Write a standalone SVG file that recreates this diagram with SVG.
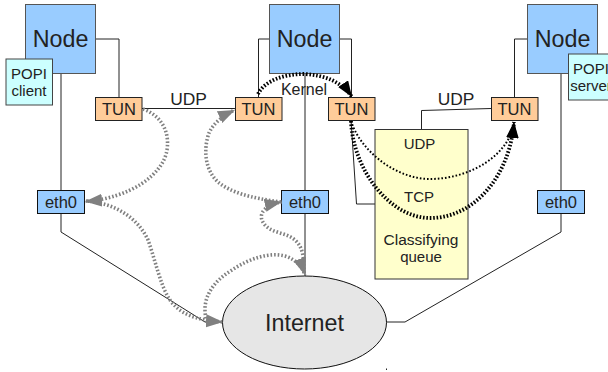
<svg xmlns="http://www.w3.org/2000/svg" width="608" height="372" viewBox="0 0 608 372">
<defs>
<style>
text{font-family:"Liberation Sans",Arial,sans-serif;fill:#222;text-anchor:middle}
.node{fill:#99ccff;stroke:#555}
.popi{fill:#ccffff;stroke:#444}
.tun{fill:#ffcc99;stroke:#222}
.eth{fill:#99ccff;stroke:#111}
.c{fill:none;stroke:#222;stroke-width:1}
.g{fill:none;stroke:#808080;stroke-width:3.6;stroke-dasharray:1.6 2}
.b1{fill:none;stroke:#000;stroke-width:2;stroke-dasharray:1.6 2}
.b2{fill:none;stroke:#000;stroke-width:3.8;stroke-dasharray:1.6 1.8}
.n{font-size:23.3px}.t{font-size:16.5px}.s{font-size:15px}.u{font-size:17.4px}
</style>
<marker id="ag" markerUnits="userSpaceOnUse" markerWidth="18" markerHeight="14" refX="17" refY="6.500" orient="auto"><path d="M0 0L17 6.500L0 13Z" fill="#808080"/></marker>
<marker id="ab" markerUnits="userSpaceOnUse" markerWidth="18" markerHeight="14" refX="16" refY="6" orient="auto"><path d="M0 0L16 6L0 12Z" fill="#000"/></marker>
</defs>
<g id="connectors">
<path class="c" d="M96 39H119V98"/>
<path class="c" d="M61 73V191M61 213V232L205 322H223"/>
<path class="c" d="M142 108.500H235"/>
<path class="c" d="M258.500 97V39H270"/>
<path class="c" d="M305 73V191M305 213V276"/>
<path class="c" d="M339 39H351.500V98"/>
<path class="c" d="M351 120L356.500 204H375"/>
<path class="c" d="M421.500 129V110.500L491 108.500"/>
<path class="c" d="M514.500 97V39H528"/>
<path class="c" d="M561 73V191M561 213V232L405 322H386"/>
<path class="c" d="M386.500 368.500V370"/>
</g>
<g id="node1"><rect class="node" x="25.500" y="4.500" width="70" height="69"/><text class="n" x="60.500" y="47">Node</text></g>
<g id="node2"><rect class="node" x="269.500" y="4.500" width="70" height="69"/><text class="n" x="304.500" y="47">Node</text></g>
<g id="node3"><rect class="node" x="527.500" y="4.500" width="70" height="69"/><text class="n" x="562.500" y="47">Node</text></g>
<g id="popi-client"><rect class="popi" x="6" y="59" width="46.500" height="46"/><text class="s" x="29" y="79">POPI</text><text class="s" x="29" y="96">client</text></g>
<g id="popi-server"><rect class="popi" x="568.500" y="54" width="46" height="46"/><text class="s" x="591" y="74">POPI</text><text class="s" x="591" y="91">server</text></g>
<g id="tun1"><rect class="tun" x="95.500" y="97.500" width="46.500" height="23"/><text class="t" x="119" y="115">TUN</text></g>
<g id="tun2"><rect class="tun" x="235.500" y="97.500" width="46.500" height="23"/><text class="t" x="258.500" y="115">TUN</text></g>
<g id="tun3"><rect class="tun" x="328.500" y="97.500" width="46.500" height="23"/><text class="t" x="351.500" y="115">TUN</text></g>
<g id="tun4"><rect class="tun" x="491.500" y="97.500" width="46.500" height="23"/><text class="t" x="514.500" y="115">TUN</text></g>
<g id="eth1"><rect class="eth" x="37.500" y="190.500" width="47" height="23"/><text class="t" x="61" y="208">eth0</text></g>
<g id="eth2"><rect class="eth" x="281.500" y="190.500" width="47" height="23"/><text class="t" x="305" y="208">eth0</text></g>
<g id="eth3"><rect class="eth" x="537.500" y="190.500" width="47" height="23"/><text class="t" x="561" y="208">eth0</text></g>
<g id="queue"><rect x="375" y="129.500" width="93" height="149.500" fill="#ffffcc" stroke="#333"/><text class="s" x="419.500" y="149">UDP</text><text class="s" x="419" y="202">TCP</text><text class="s" x="421" y="245" style="font-size:15.500px">Classifying</text><text class="s" x="421" y="262">queue</text></g>
<g id="internet"><ellipse cx="304.500" cy="322.500" rx="82" ry="46.500" fill="#e6e6e6" stroke="#111"/><text class="n" x="304.500" y="331">Internet</text></g>
<g id="labels"><text class="u" x="188.500" y="105">UDP</text><text class="u" x="456" y="105">UDP</text><text x="304" y="95" style="font-size:16px">Kernel</text></g>
<g id="flows">
<path class="g" marker-end="url(#ag)" d="M143 109C160 115 170 130 167 150C163 175 130 198 85 201.500"/>
<path class="g" marker-end="url(#ag)" d="M281 202C250 198 230 192 218 182C205 170 203 150 209 133C213 124 222 116 235 110"/>
<path class="g" marker-end="url(#ag)" d="M304 273C304 258 303 248 296 241C287 232 273 234 265 225C257 216 262 206 281.700 201.700"/>
<path class="g" marker-end="url(#ag)" d="M207 322C200 300 212 282 232 270C250 258 270 252 285 256C295 259 302 266 305 275"/>
<path class="g" marker-end="url(#ag)" d="M86 201C115 203 138 218 148 240C156 262 160 285 170 300C180 314 195 320 223 322"/>
<path class="b2" marker-end="url(#ab)" d="M258 94C265 80 285 74 304 74C325 75 342 82 352 97"/>
<path class="b1" marker-end="url(#ab)" d="M351 121C360 150 395 179 430 179C470 179 510 155 514 122"/>
<path class="b2" marker-end="url(#ab)" d="M351 121C353 170 390 218 430 218C475 218 510 175 514 122"/>
</g>
</svg>
